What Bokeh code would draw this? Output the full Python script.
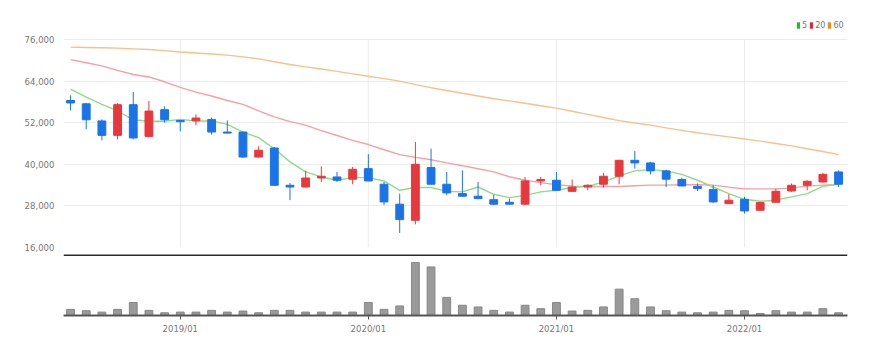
from bokeh.plotting import figure
from bokeh.layouts import column
from bokeh.models import (ColumnDataSource, Range1d, FixedTicker, NumeralTickFormatter,
                          Span, Legend, LegendItem)
from bokeh.embed import file_html
from bokeh.resources import INLINE

months = ["2018/06", "2018/07", "2018/08", "2018/09", "2018/10", "2018/11", "2018/12",
          "2019/01", "2019/02", "2019/03", "2019/04", "2019/05", "2019/06", "2019/07",
          "2019/08", "2019/09", "2019/10", "2019/11", "2019/12", "2020/01", "2020/02",
          "2020/03", "2020/04", "2020/05", "2020/06", "2020/07", "2020/08", "2020/09",
          "2020/10", "2020/11", "2020/12", "2021/01", "2021/02", "2021/03", "2021/04",
          "2021/05", "2021/06", "2021/07", "2021/08", "2021/09", "2021/10", "2021/11",
          "2021/12", "2022/01", "2022/02", "2022/03", "2022/04", "2022/05", "2022/06",
          "2022/07"]
opens = [58400, 57450, 52500, 48350, 57200, 48050, 55750, 52650, 52550, 52950,
         49300, 49300, 42100, 44700, 33950, 33450, 36050, 36350, 35700, 38750,
         34250, 28500, 23850, 39050, 34250, 31550, 30800, 29800, 29050, 28500,
         35200, 35400, 32200, 33450, 34250, 36550, 41150, 40400, 38100, 35600,
         33650, 32700, 28650, 29900, 26750, 29050, 32300, 33950, 34900, 37800]
highs = [59900, 57700, 52950, 57650, 60850, 58250, 56700, 52700, 54400, 53450,
         52650, 49500, 45200, 45000, 34600, 38100, 39400, 37800, 39250, 42900,
         34900, 31550, 46450, 44500, 37800, 38250, 34900, 31250, 30100, 36350,
         36350, 37800, 35600, 34250, 37500, 41300, 43850, 40700, 38450, 36150,
         34450, 33950, 31350, 30600, 29150, 33000, 34450, 35400, 37500, 38250]
lows = [55550, 50100, 46900, 47200, 47200, 47850, 52000, 49500, 51250, 48550,
        49000, 41800, 41900, 33850, 29650, 33300, 34900, 34900, 34250, 35100,
        28200, 20200, 22700, 34200, 31050, 30600, 29900, 28200, 28450, 28300,
        33950, 32300, 32050, 32500, 33300, 34250, 38750, 37100, 33450, 33650,
        32300, 28850, 28650, 25800, 26750, 28950, 32050, 32500, 34700, 33450]
closes = [57700, 52850, 48350, 57200, 47600, 55350, 52850, 52300, 53350, 49300,
          49000, 42100, 44050, 33950, 33450, 36050, 36550, 35400, 38550, 35200,
          29150, 24050, 40000, 34250, 31750, 30800, 30100, 28500, 28500, 35200,
          35600, 32500, 33450, 33950, 36550, 41150, 40400, 38100, 35700, 33750,
          33000, 29150, 29650, 26550, 28950, 32200, 33950, 35100, 37100, 34250]
volumes = [18, 14, 10, 18, 38, 15, 8, 10, 10, 15, 10, 13, 8, 15, 15, 10, 10, 10, 10, 38,
           18, 28, 155, 142, 53, 30, 25, 15, 10, 30, 20, 38, 13, 15, 25, 77, 49, 25, 14, 10,
           8, 10, 15, 14, 6, 14, 10, 10, 20, 8]
ma5 = [61700, 59400, 57300, 55400, 52850, 52400, 52400, 52950, 52500, 52500,
       51500, 49300, 47700, 44500, 40700, 37800, 36350, 35400, 36150, 36150,
       35200, 32500, 33300, 33300, 32200, 32050, 33450, 31350, 30400, 31050,
       32050, 32500, 33300, 33650, 34900, 36650, 38100, 38450, 38100, 37100,
       35400, 33450, 31550, 29900, 29350, 29650, 30600, 31550, 33650, 34250]
ma20 = [70200, 69300, 68400, 67100, 65900, 65200, 63800, 62200, 60800, 59700,
        58400, 57300, 55400, 53700, 52300, 51300, 49700, 48300, 46900, 45700,
        44200, 42800, 42000, 41300, 40400, 39600, 38700, 37800, 36400, 35400,
        34700, 34100, 33700, 33600, 33600, 33600, 33800, 34000, 34000, 34100,
        34100, 34000, 33400, 32900, 32900, 32900, 33200, 33700, 34000, 34200]
ma60 = [73800, 73700, 73600, 73500, 73300, 73100, 72800, 72400, 72100, 71800,
        71500, 71000, 70400, 69600, 68800, 68100, 67500, 66800, 66100, 65400,
        64700, 64000, 63000, 62100, 61300, 60500, 59700, 58900, 58300, 57600,
        56900, 56200, 55300, 54400, 53500, 52600, 51900, 51300, 50500, 49800,
        49100, 48500, 47900, 47300, 46700, 46000, 45300, 44500, 43700, 42800]
price_ticks = [16000, 28000, 40000, 52000, 64000, 76000]
legend_labels = ["5", "20", "60"]

FONT = "DejaVu Sans Condensed"
UP, DOWN = "#e8383d", "#1b73e8"

idx = list(range(len(months)))
year_ticks = [i for i, m in enumerate(months) if m.endswith("/01")]
src = ColumnDataSource(dict(
    x=idx, open=opens, high=highs, low=lows, close=closes, vol=volumes,
    top=[max(o, c) for o, c in zip(opens, closes)],
    bottom=[min(o, c) for o, c in zip(opens, closes)],
    color=[UP if c >= o else DOWN for o, c in zip(opens, closes)],
    ma5=ma5, ma20=ma20, ma60=ma60,
))

# price frame: 76,000 at 29px below frame top, 16,000 at frame bottom
per_px = (price_ticks[-1] - price_ticks[0]) / 208.0
y_top = price_ticks[-1] + 29 * per_px

xr = Range1d(-0.45, len(months) - 1 + 0.57)
p = figure(width=885, height=254, x_range=xr, y_range=Range1d(price_ticks[0], y_top),
           x_axis_location=None, output_backend="svg", toolbar_location=None,
           min_border_left=63, min_border_right=38, min_border_top=10, min_border_bottom=7)
p.outline_line_color = None
p.background_fill_color = "white"
p.border_fill_color = "white"
p.yaxis.ticker = FixedTicker(ticks=price_ticks)
p.yaxis.formatter = NumeralTickFormatter(format="0,0")
p.yaxis.axis_line_color = None
p.yaxis.major_tick_line_color = None
p.yaxis.minor_tick_line_color = None
p.yaxis.major_label_text_font = FONT
p.yaxis.major_label_text_font_size = "9.5px"
p.yaxis.major_label_text_color = "#777777"
p.yaxis.major_label_standoff = 3
p.ygrid.ticker = FixedTicker(ticks=price_ticks)
p.ygrid.grid_line_color = "#ececec"
p.xgrid.visible = False
# vertical year grid lines, limited to the price tick span
p.segment(x0=year_ticks, y0=[price_ticks[0]] * len(year_ticks),
          x1=year_ticks, y1=[price_ticks[-1]] * len(year_ticks),
          line_color="#ececec", line_width=1)

p.line("x", "ma60", source=src, line_color="#f7c08c", line_width=1.4)
p.line("x", "ma20", source=src, line_color="#f5a0a3", line_width=1.4)
p.line("x", "ma5", source=src, line_color="#8edc88", line_width=1.4)
p.segment("x", "low", "x", "high", source=src, line_color="color", line_width=1)
p.vbar(x="x", top="top", bottom="bottom", width=0.5, source=src,
       fill_color="color", line_color="color", line_width=1)

# legend swatches: zero-area quads on the MA series (invisible in the plot,
# but drawn as filled blocks in the legend)
leg_colors = ["#22bb22", "#ee2233", "#f08a1a"]
items = []
for lab, c, col in zip(legend_labels, leg_colors, ["ma5", "ma20", "ma60"]):
    r = p.quad(left="x", right="x", top=col, bottom=col, source=src,
               fill_color=c, line_color=None)
    items.append(LegendItem(label=lab, renderers=[r]))
legend = Legend(items=items, orientation="horizontal", location=(733, 217),
                glyph_width=4, glyph_height=8, label_standoff=2, spacing=2,
                padding=0, margin=0, label_height=10, label_width=1,
                label_text_font=FONT, label_text_font_size="9px",
                label_text_color="#777777", background_fill_alpha=0,
                border_line_color=None)
p.add_layout(legend)

v = figure(width=885, height=99, x_range=xr, y_range=Range1d(0, 178.4),
           y_axis_location=None, output_backend="svg", toolbar_location=None,
           min_border_left=63, min_border_right=38, min_border_top=0, min_border_bottom=38)
v.outline_line_color = None
v.ygrid.visible = False
v.xgrid.visible = False
v.vbar(x="x", top="vol", bottom=0, width=0.5, source=src,
       fill_color="#9a9a9a", line_color="#888888", line_width=1)
v.xaxis.ticker = FixedTicker(ticks=year_ticks)
v.xaxis.major_label_overrides = {i: months[i] for i in year_ticks}
v.xaxis.axis_line_color = "#555555"
v.xaxis.axis_line_width = 2
v.xaxis.major_tick_line_color = "#555555"
v.xaxis.major_tick_out = 4
v.xaxis.major_tick_in = 0
v.xaxis.minor_tick_line_color = None
v.xaxis.major_label_text_font = FONT
v.xaxis.major_label_text_font_size = "9.5px"
v.xaxis.major_label_text_color = "#777777"
v.xaxis.major_label_standoff = 3
v.add_layout(Span(location=177, dimension="width", line_color="#2a2a2a", line_width=2))

layout = column(p, v, spacing=0)
open("out.html", "w").write(file_html(layout, INLINE))
